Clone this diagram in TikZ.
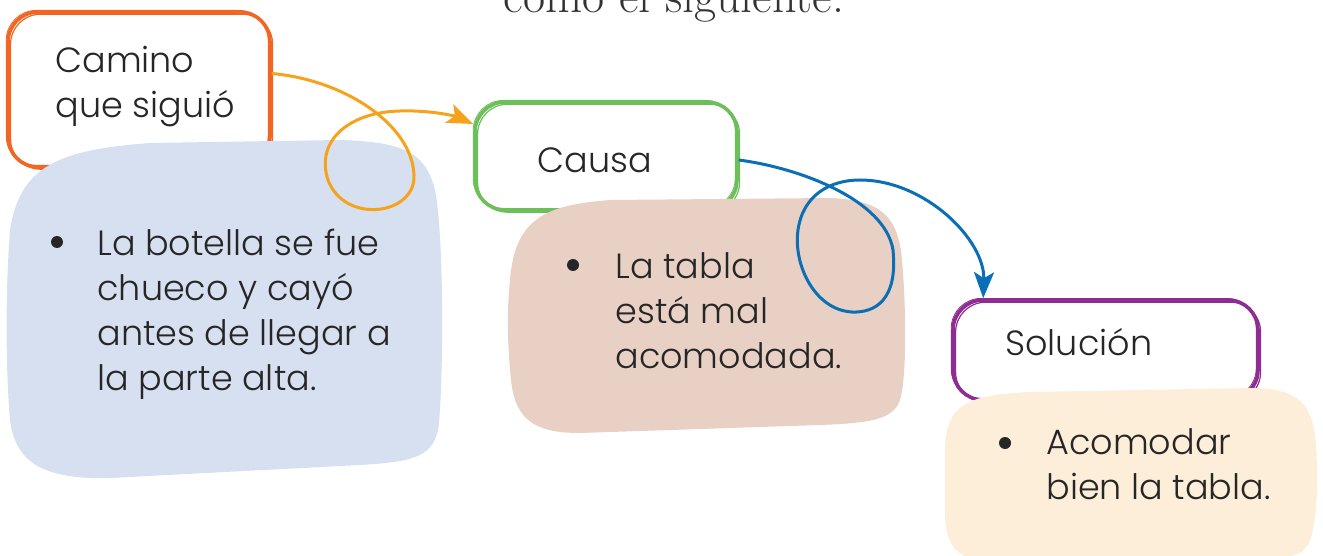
\documentclass[tikz,border=0pt]{standalone}
\usepackage{fontspec}
\setmainfont{Poppins}[UprightFont=* Light]
\newfontfamily\serifa{Latin Modern Roman}
\usetikzlibrary{arrows.meta}

\definecolor{naranjaBorde}{HTML}{F26522}
\definecolor{naranjaFlecha}{HTML}{F7A21B}
\definecolor{verdeBorde}{HTML}{6CBF5A}
\definecolor{moradoBorde}{HTML}{8E2C91}
\definecolor{azulFlecha}{HTML}{0B6FB5}
\definecolor{fondoAzul}{HTML}{D6E0F0}
\definecolor{fondoCafe}{HTML}{E8D0C4}
\definecolor{fondoCrema}{HTML}{FDEEDA}

\tikzset{
  cajaBorde/.style={draw=#1, line width=1.8pt, rounded corners=15pt, fill=white,
    postaction={draw=#1, line width=0.6pt, transform canvas={shift={(1.3pt,-1.1pt)}}},
    postaction={draw=#1, line width=0.4pt, transform canvas={shift={(-0.9pt,0.8pt)}}}},
  flecha/.style={draw=#1, line width=1.5pt, -{Stealth[length=13pt,width=10pt,inset=3pt]}},
  texto/.style={anchor=base west, align=left, inner sep=0pt, text=black!85,
    font=\fontsize{17.5}{22.5}\selectfont},
  vineta/.style={circle, fill=black!85, inner sep=0pt, minimum size=6pt}
}

\begin{document}
\begin{tikzpicture}[x=0.5pt,y=-0.5pt]
  \useasboundingbox (0,0) rectangle (1323,556);
  \clip (0,0) rectangle (1323,556);

  % titulo cortado arriba
  \node[anchor=base, inner sep=0pt, font=\serifa\fontsize{24}{28}\selectfont, text=black!80]
    (txtTitulo) at (674,13) {como el siguiente.};

  % cajas con borde
  \node[cajaBorde=naranjaBorde, minimum width=131pt, minimum height=77.5pt] (caminoBox) at (139,89.5) {};
  \node[cajaBorde=verdeBorde, minimum width=131pt, minimum height=54pt] (causaBox) at (606,156) {};
  \node[cajaBorde=moradoBorde, minimum width=152.5pt, minimum height=50pt] (solucionBox) at (1105.5,350) {};

  % fondos
  \fill[fondoAzul] (10,230) .. controls (20,165) and (60,150) .. (150,143)
    -- (340,140) .. controls (400,142) and (425,150) .. (435,190)
    .. controls (445,240) and (443,400) .. (438,430)
    .. controls (432,458) and (410,462) .. (360,465)
    -- (110,478) .. controls (40,480) and (15,460) .. (10,420)
    .. controls (5,360) and (6,280) .. (10,230) -- cycle;
  \fill[fondoCafe] (510,280) .. controls (515,215) and (550,205) .. (610,200)
    -- (830,198) .. controls (880,200) and (898,215) .. (902,260)
    .. controls (907,320) and (906,380) .. (900,400)
    .. controls (893,420) and (870,423) .. (820,425)
    -- (580,433) .. controls (535,433) and (515,420) .. (511,380)
    .. controls (507,340) and (507,310) .. (510,280) -- cycle;
  \fill[fondoCrema] (945,450) .. controls (946,405) and (965,395) .. (1030,392)
    -- (1250,388) .. controls (1300,388) and (1313,405) .. (1316,445)
    .. controls (1319,490) and (1316,530) .. (1308,545)
    .. controls (1300,558) and (1280,560) .. (1240,560)
    -- (1000,562) .. controls (960,562) and (948,550) .. (945,520) -- cycle;

  % textos (la base es la de la ultima linea)
  \node[texto] (txtCamino) at (55,118) {Camino\\que siguió};
  \node[texto] (txtCausa) at (537,172) {Causa};
  \node[texto] (txtSolucion) at (1005,355) {Solución};

  \node[vineta] (vinA) at (57,242) {};
  \node[texto] (txtBotella) at (97,390) {La botella se fue\\chueco y cayó\\antes de llegar a\\la parte alta.};
  \node[vineta] (vinB) at (573,265) {};
  \node[texto] (txtTabla) at (615,368) {La tabla\\está mal\\acomodada.};
  \node[vineta] (vinC) at (1005,443) {};
  \node[texto] (txtAcomodar) at (1046,499) {Acomodar\\bien la tabla.};

  % flechas con rulo
  \draw[flecha=naranjaFlecha] ([yshift=8pt]caminoBox.east)
    .. controls (345,80) and (412,125) .. (414,175)
    .. controls (416,215) and (345,225) .. (328,180)
    .. controls (315,140) and (350,112) .. (400,111)
    .. controls (430,110) and (455,116) .. ([yshift=16pt]causaBox.west);
  \draw[flecha=azulFlecha] ([yshift=-2pt]causaBox.east)
    .. controls (800,168) and (885,200) .. (893,250)
    .. controls (898,300) and (875,313) .. (852,312)
    .. controls (815,310) and (793,265) .. (798,230)
    .. controls (803,195) and (830,180) .. (860,180)
    .. controls (925,180) and (985,240) .. ([xshift=16pt]solucionBox.north west);
\end{tikzpicture}
\end{document}
